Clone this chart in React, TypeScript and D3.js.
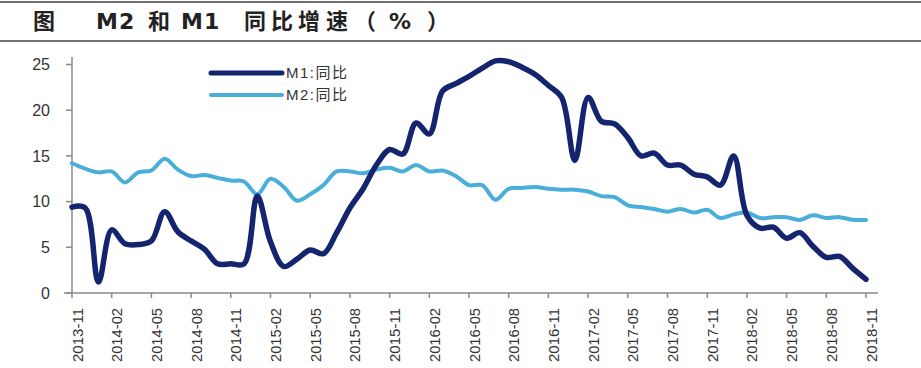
import React, { useEffect, useRef } from 'react';
import * as d3 from 'd3';

// monthly, 2013-11 .. 2018-11
const months = [
  '2013-11', '2013-12',
  '2014-01', '2014-02', '2014-03', '2014-04', '2014-05', '2014-06', '2014-07', '2014-08', '2014-09', '2014-10', '2014-11', '2014-12',
  '2015-01', '2015-02', '2015-03', '2015-04', '2015-05', '2015-06', '2015-07', '2015-08', '2015-09', '2015-10', '2015-11', '2015-12',
  '2016-01', '2016-02', '2016-03', '2016-04', '2016-05', '2016-06', '2016-07', '2016-08', '2016-09', '2016-10', '2016-11', '2016-12',
  '2017-01', '2017-02', '2017-03', '2017-04', '2017-05', '2017-06', '2017-07', '2017-08', '2017-09', '2017-10', '2017-11', '2017-12',
  '2018-01', '2018-02', '2018-03', '2018-04', '2018-05', '2018-06', '2018-07', '2018-08', '2018-09', '2018-10', '2018-11',
];

const m1 = [
  9.4, 9.3,
  1.2, 6.9, 5.4, 5.3, 5.7, 8.9, 6.7, 5.7, 4.8, 3.2, 3.2, 3.2,
  10.6, 5.6, 2.9, 3.7, 4.7, 4.3, 6.6, 9.3, 11.4, 14.0, 15.7, 15.2,
  18.6, 17.4, 22.1, 22.9, 23.7, 24.6, 25.4, 25.3, 24.7, 23.9, 22.7, 21.4,
  14.5, 21.4, 18.8, 18.5, 17.0, 15.0, 15.3, 14.0, 14.0, 13.0, 12.7, 11.8,
  15.0, 8.5, 7.1, 7.2, 6.0, 6.6, 5.1, 3.9, 4.0, 2.7, 1.5,
];

const m2 = [
  14.2, 13.6,
  13.2, 13.3, 12.1, 13.2, 13.4, 14.7, 13.5, 12.8, 12.9, 12.6, 12.3, 12.2,
  10.8, 12.5, 11.6, 10.1, 10.8, 11.8, 13.3, 13.3, 13.1, 13.5, 13.7, 13.3,
  14.0, 13.3, 13.4, 12.8, 11.8, 11.8, 10.2, 11.4, 11.5, 11.6, 11.4, 11.3,
  11.3, 11.1, 10.6, 10.5, 9.6, 9.4, 9.2, 8.9, 9.2, 8.8, 9.1, 8.2,
  8.6, 8.8, 8.2, 8.3, 8.3, 8.0, 8.5, 8.2, 8.3, 8.0, 8.0,
];

const yTicks = [0, 5, 10, 15, 20, 25];
const seriesNames = ['M1:同比', 'M2:同比'];
// title pieces: text, left edge
const titleParts: [string, number][] = [
  ['M2', 96], ['和', 148], ['M1', 181], ['同', 244], ['比', 271], ['增', 298], ['速', 326],
  ['（', 354], ['%', 389], ['）', 427],
];

const W = 921;
const H = 368;

export default function App() {
  const ref = useRef<SVGSVGElement>(null);

  useEffect(() => {
    const svg = d3.select(ref.current);
    svg.selectAll('*').remove();

    const x = d3.scaleLinear().domain([0, months.length - 1]).range([72, 866]);
    const y = d3.scaleLinear().domain([0, 25]).range([293, 64.5]);

    // title block
    svg.append('line').attr('x1', 0).attr('x2', W).attr('y1', 2).attr('y2', 2)
      .attr('stroke', '#707070').attr('stroke-width', 2);
    svg.append('line').attr('x1', 0).attr('x2', W).attr('y1', 41).attr('y2', 41)
      .attr('stroke', '#707070').attr('stroke-width', 2);
    svg.append('text').text('图').attr('x', 33).attr('y', 29)
      .style('font-family', '"Noto Sans CJK SC"').style('font-weight', 'bold')
      .style('font-size', '22px').attr('fill', '#222');
    const tt = svg.append('text').attr('y', 29).attr('fill', '#222')
      .style('font-family', '"DejaVu Sans", "Noto Sans CJK SC"').style('font-weight', 'bold')
      .style('font-size', '22px');
    titleParts.forEach(([s, px]) => {
      tt.append('tspan').attr('x', px).style('letter-spacing', s.length > 1 ? '1px' : '0px').text(s);
    });

    // axes
    const axisColor = '#8a8a8a';
    svg.append('line').attr('x1', 72).attr('x2', 72).attr('y1', 57).attr('y2', 293)
      .attr('stroke', axisColor).attr('stroke-width', 1.5);
    svg.append('line').attr('x1', 64).attr('x2', 878).attr('y1', 293).attr('y2', 293)
      .attr('stroke', axisColor).attr('stroke-width', 1.5);

    const yg = svg.append('g');
    yTicks.forEach((t) => {
      yg.append('line').attr('x1', 66).attr('x2', 72).attr('y1', y(t)).attr('y2', y(t))
        .attr('stroke', axisColor).attr('stroke-width', 1.5);
      yg.append('text').text(t).attr('x', 50).attr('y', y(t)).attr('dy', '0.36em')
        .attr('text-anchor', 'end').attr('fill', '#333')
        .style('font-family', '"Liberation Sans", Arial').style('font-size', '16px');
    });

    const xg = svg.append('g');
    months.forEach((m, i) => {
      if (i % 3 !== 0) return;
      xg.append('line').attr('x1', x(i)).attr('x2', x(i)).attr('y1', 293).attr('y2', 298)
        .attr('stroke', axisColor).attr('stroke-width', 1.5);
      xg.append('text').text(m)
        .attr('transform', `translate(${x(i) + 10.5},${308}) rotate(-90)`)
        .attr('text-anchor', 'end').attr('fill', '#333')
        .attr('textLength', 54).attr('lengthAdjust', 'spacingAndGlyphs')
        .style('font-family', '"Liberation Sans", Arial').style('font-size', '15.5px');
    });

    const line = (vals: number[]) =>
      d3.line<number>().x((d, i) => x(i)).y((d) => y(d)).curve(d3.curveCatmullRom.alpha(0.5))(vals);

    svg.append('path').attr('d', line(m2)).attr('fill', 'none')
      .attr('stroke', '#4aaedb').attr('stroke-width', 4).attr('stroke-linejoin', 'round').attr('stroke-linecap', 'round');
    svg.append('path').attr('d', line(m1)).attr('fill', 'none')
      .attr('stroke', '#14246f').attr('stroke-width', 5.5).attr('stroke-linejoin', 'round').attr('stroke-linecap', 'round');

    // legend
    const colors = ['#14246f', '#4aaedb'];
    seriesNames.forEach((n, i) => {
      const ly = 73 + i * 22;
      svg.append('line').attr('x1', 211).attr('x2', 282).attr('y1', ly).attr('y2', ly)
        .attr('stroke', colors[i]).attr('stroke-width', i === 0 ? 5 : 4).attr('stroke-linecap', 'round');
      svg.append('text').text(n).attr('x', 286).attr('y', ly).attr('dy', '0.36em').attr('fill', '#333')
        .style('letter-spacing', '1.5px')
        .style('font-family', '"Liberation Sans", "Noto Sans CJK SC"').style('font-size', '15px');
    });
  }, []);

  return (
    <svg ref={ref} width={W} height={H}
      style={{ position: 'absolute', left: 0, top: 0, background: '#fff' }} />
  );
}
